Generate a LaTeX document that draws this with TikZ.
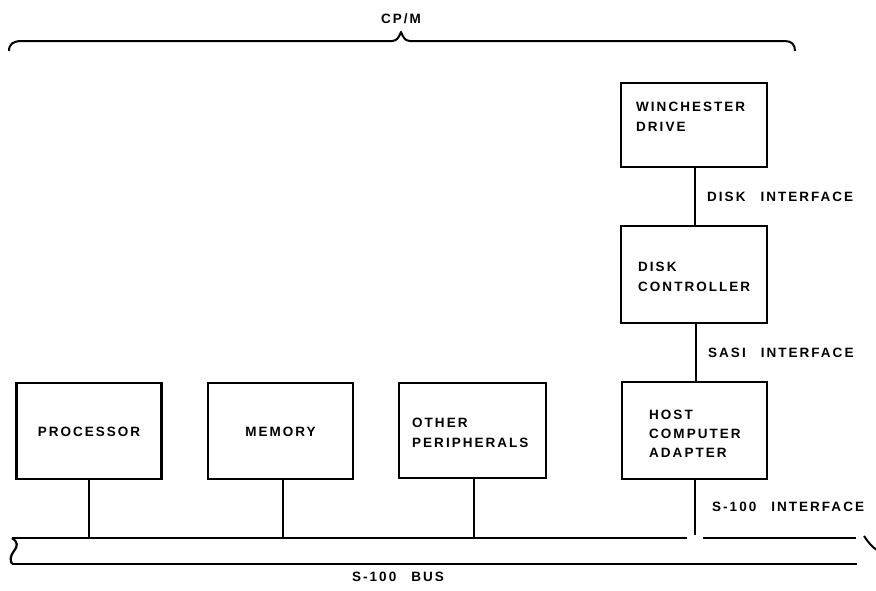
\documentclass[tikz,border=0pt]{standalone}
\usepackage{fontspec}
\setmainfont{Liberation Sans}[LetterSpace=15,WordSpace=2.6]
\begin{document}
\begin{tikzpicture}[x=1pt,y=-1pt,
  box/.style={draw,line width=2.2pt,inner sep=0pt},
  lbl/.style={font=\fontsize{13.5}{20}\selectfont\bfseries,inner sep=0pt},
  wire/.style={line width=2pt},
  bus/.style={line width=2.2pt}]
\useasboundingbox (0,0) rectangle (876,590);
% brace
\draw[line width=2pt,line join=round] (9,51) .. controls (9,44) and (13,41) .. (22,41) -- (392,41)
  .. controls (397,41) and (399,37) .. (401,32) .. controls (403,37) and (405,41) .. (410,41)
  -- (785,41) .. controls (792,41) and (795,45) .. (795,51);
\node[lbl] (cpm) at (401,19) {CP/M};
% boxes
\node[box,minimum width=145pt,minimum height=96pt] (proc) at (89,431) {};
\node[box,minimum width=145pt,minimum height=96pt] (mem) at (280.5,431) {};
\node[box,minimum width=147pt,minimum height=95pt] (oth) at (472.5,430.5) {};
\node[box,minimum width=146pt,minimum height=84pt] (wd) at (694,125) {};
\node[box,minimum width=146pt,minimum height=97pt] (dc) at (694,274.5) {};
\node[box,minimum width=145pt,minimum height=97pt] (hca) at (694.5,430.5) {};
% box texts
\node[lbl] (proct) at (89,432) {PROCESSOR};
\node[lbl] (memt) at (280.5,432) {MEMORY};
\node[lbl,anchor=base west,align=left] (otht) at (412,447) {OTHER\\PERIPHERALS};
\node[lbl,anchor=base west,align=left] (wdt) at (636,131) {WINCHESTER\\DRIVE};
\node[lbl,anchor=base west,align=left] (dct) at (638,291) {DISK\\CONTROLLER};
\node[lbl,anchor=base west,align=left,font=\fontsize{13.5}{19}\selectfont\bfseries] (hcat) at (649,457) {HOST\\COMPUTER\\ADAPTER};
% interface labels
\node[lbl,anchor=west] (dil) at (707,197) {DISK INTERFACE};
\node[lbl,anchor=west] (sil) at (708,353) {SASI INTERFACE};
\node[lbl,anchor=west] (s1l) at (712,507) {S-100 INTERFACE};
\node[lbl] (busl) at (398,577) {S-100 BUS};
% bus
\coordinate (bp) at (89,538);
\coordinate (bm) at (283,538);
\coordinate (bo) at (474,538);
\coordinate (bh) at (695,535);
\draw[bus] (12,538) -- (687,538);
\draw[bus] (703,538) -- (856,538);
\draw[bus] (12,564) -- (857,564);
\draw[bus] (12,538) .. controls (18,542) and (18,546) .. (14,551) .. controls (10,556) and (10,560) .. (12,564);
\draw[line width=2pt] (864,536) .. controls (868,542) and (872,547) .. (877,550);
% connectors
\draw[wire] (proc.south) -- (bp);
\draw[wire] (mem.south -| bm) -- (bm);
\draw[wire] (oth.south -| bo) -- (bo);
\draw[wire] (hca.south -| bh) -- (bh);
\draw[wire] (wd.south -| 695,0) -- (dc.north -| 695,0);
\draw[wire] (dc.south -| 696,0) -- (hca.north -| 696,0);
\end{tikzpicture}
\end{document}
